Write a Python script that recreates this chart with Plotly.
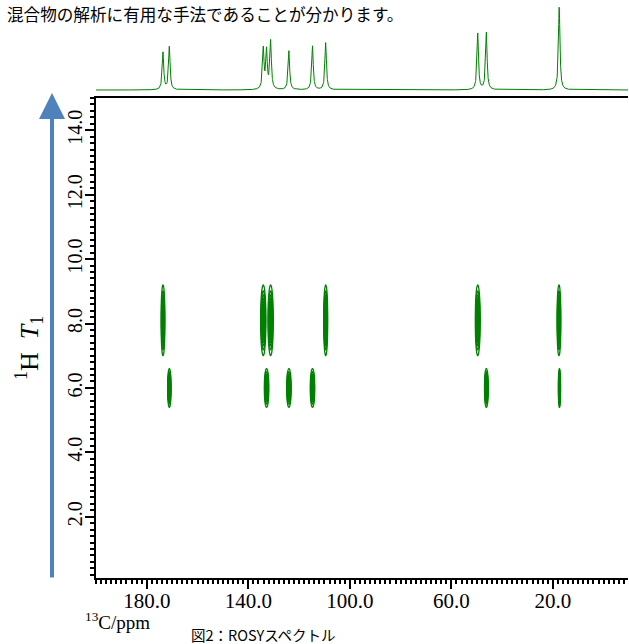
import numpy as np
import plotly.graph_objects as go

# ---------------- data ----------------
# 1D 13C spectrum peaks (ppm) and relative intensities
peak_ppm = [173.6, 171.1, 134.1, 132.8, 131.2, 124.0, 114.7, 109.5, 49.6, 46.2, 17.5]
peak_int = [0.45, 0.52, 0.49, 0.46, 0.58, 0.47, 0.53, 0.57, 0.68, 0.69, 1.00]

# ROSY cross peaks: 13C shift (ppm), 1H T1 value, linewidths (ppm)
cross_c13 = [173.6, 134.1, 131.2, 109.5, 49.6, 17.6, 171.1, 132.8, 124.0, 114.7, 46.2, 17.4]
cross_t1 = [8.1, 8.1, 8.1, 8.1, 8.1, 8.1, 6.0, 6.0, 6.0, 6.0, 6.0, 6.0]
cross_wc = [0.37, 0.49, 0.49, 0.39, 0.46, 0.37, 0.34, 0.43, 0.43, 0.43, 0.37, 0.25]
cross_wt = [0.51, 0.51, 0.51, 0.51, 0.51, 0.51, 0.28, 0.28, 0.28, 0.28, 0.28, 0.28]

x_ticks = [180, 140, 100, 60, 20]
y_ticks = [2, 4, 6, 8, 10, 12, 14]

GREEN = "#008000"
SERIF = "Liberation Serif"
SANS = "Noto Sans CJK JP"

fig = go.Figure()

# ---- 2D contours ----
for c, t, wc, wt in zip(cross_c13, cross_t1, cross_wc, cross_wt):
    xs = c + np.linspace(-3 * wc, 3 * wc, 41)
    ys = t + np.linspace(-3 * wt, 3 * wt, 61)
    X, Y = np.meshgrid(xs, ys)
    Z = np.exp(-((X - c) ** 2) / (2 * wc ** 2) - ((Y - t) ** 2) / (2 * wt ** 2))
    fig.add_trace(go.Contour(
        x=xs, y=ys, z=Z, xaxis="x", yaxis="y",
        contours=dict(coloring="lines", start=0.1, end=0.9, size=0.1),
        colorscale=[[0, GREEN], [1, GREEN]],
        line=dict(width=1.3), showscale=False, hoverinfo="skip",
    ))

# ---- 1D projection spectrum ----
xgrid = np.arange(-9.6, 200.0, 0.04)
hw = 0.35
spec = np.zeros_like(xgrid)
for p, h in zip(peak_ppm, peak_int):
    spec += h * hw ** 2 / ((xgrid - p) ** 2 + hw ** 2)
fig.add_trace(go.Scatter(
    x=xgrid, y=spec, xaxis="x2", yaxis="y2", mode="lines",
    line=dict(color=GREEN, width=1), hoverinfo="skip", showlegend=False,
))

plot_h = 644 - 66
main_top = (plot_h - 98) / plot_h
spec_bot = (plot_h - 97) / plot_h

fig.update_layout(
    width=629, height=644,
    margin=dict(l=96, r=1, t=0, b=66),
    paper_bgcolor="white", plot_bgcolor="white",
    showlegend=False,
    xaxis=dict(
        domain=[0, 1], range=[200, -9.6], anchor="y",
        tickvals=x_ticks, ticktext=[f"{v:.1f}" for v in x_ticks],
        ticks="outside", ticklen=9, tickwidth=2, tickcolor="black",
        ticklabelstandoff=-6,
        minor=dict(dtick=2, tick0=0, ticks="outside", ticklen=4, tickwidth=1.5, tickcolor="black"),
        showline=True, linecolor="black", linewidth=2, mirror=True,
        showgrid=False, zeroline=False,
        tickfont=dict(family=SERIF, size=21, color="black"),
    ),
    yaxis=dict(
        domain=[0, main_top], range=[0.1, 15], anchor="x",
        tickvals=y_ticks, ticktext=[f"{v:.1f}" for v in y_ticks],
        tickangle=-90,
        ticks="outside", ticklen=9, tickwidth=2, tickcolor="black",
        ticklabelstandoff=-5,
        minor=dict(dtick=0.2, tick0=0, ticks="outside", ticklen=4, tickwidth=1.5, tickcolor="black"),
        showline=True, linecolor="black", linewidth=2,
        showgrid=False, zeroline=False,
        tickfont=dict(family=SERIF, size=20, color="black"),
    ),
    xaxis2=dict(domain=[0, 1], range=[200, -9.6], anchor="y2", visible=False),
    yaxis2=dict(domain=[spec_bot, 1], range=[-0.0844, 1.0843], anchor="x2", visible=False),
)

def py(p):
    return (plot_h - p) / plot_h

def px(p):
    return (p - 96) / 532

# blue arrow on the left
fig.add_annotation(
    xref="paper", yref="paper", x=px(52), y=py(93), ax=0, ay=486,
    text="", showarrow=True, arrowhead=2, arrowsize=1.3, arrowwidth=4,
    arrowcolor="#4F81BD",
)

# y axis title
fig.add_annotation(
    xref="paper", yref="paper", x=px(29), y=py(348), textangle=-90,
    text="<sup>1</sup>H  <i>T</i><sub>1</sub>", showarrow=False,
    font=dict(family=SERIF, size=26, color="black"),
    xanchor="center", yanchor="middle",
)

# x axis label
fig.add_annotation(
    xref="paper", yref="paper", x=px(83), y=py(621),
    text="<sup>13</sup>C/ppm", showarrow=False,
    font=dict(family=SERIF, size=19, color="black"),
    xanchor="left", yanchor="middle",
)

# caption
fig.add_annotation(
    xref="paper", yref="paper", x=px(189), y=py(634),
    text="図2：ROSYスペクトル", showarrow=False,
    font=dict(family=SANS, size=14.5, color="black"),
    xanchor="left", yanchor="middle",
)

# top text
fig.add_annotation(
    xref="paper", yref="paper", x=px(5), y=py(14),
    text="混合物の解析に有用な手法であることが分かります。", showarrow=False,
    font=dict(family=SANS, size=16.6, color="black"),
    xanchor="left", yanchor="middle",
)

fig.write_html("out.html", config={"displayModeBar": False},
               post_script="document.body.style.margin='0px';")
